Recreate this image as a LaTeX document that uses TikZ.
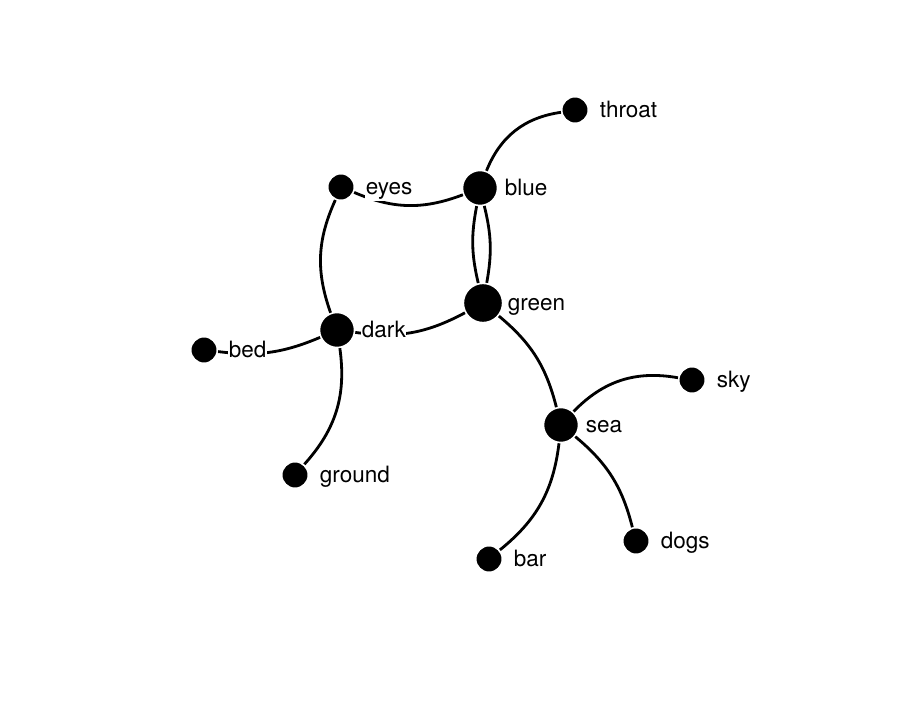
\documentclass[tikz,border=0pt]{standalone}
\usepackage{fontspec}
\setmainfont{TeX Gyre Heros}
\usetikzlibrary{positioning}
\begin{document}
\begin{tikzpicture}[x=0.025cm,y=-0.025cm,
    word/.style={circle,fill=black,draw=white,line width=1.2pt,inner sep=0pt,minimum size=19pt},
    bigword/.style={word,minimum size=25pt},
    hub/.style={word,minimum size=28pt},
    lbl/.style={anchor=mid west,inner sep=0.5pt,fill=white,yshift=-3pt,font=\fontsize{16}{19}\selectfont},
    link/.style={line width=2pt}]
    \useasboundingbox (0,0) rectangle (898,720);
    % words
    \node[word]    (throat) at (575,110) {};
    \node[bigword] (blue)   at (480,188) {};
    \node[word]    (eyes)   at (341,187) {};
    \node[hub]     (green)  at (483,303) {};
    \node[bigword] (dark)   at (337,330) {};
    \node[word]    (bed)    at (204,350) {};
    \node[word]    (sky)    at (692,380) {};
    \node[bigword] (sea)    at (561,425) {};
    \node[word]    (ground) at (295,475) {};
    \node[word]    (dogs)   at (636,541) {};
    \node[word]    (bar)    at (489,559) {};
    % links
    \draw[link] (blue) to[bend left=30] (throat);
    \draw[link] (eyes) to[bend right=22] (blue);
    \draw[link] (blue) to[bend left=12] (green);
    \draw[link] (blue) to[bend right=12] (green);
    \draw[link] (eyes) to[bend right=22] (dark);
    \draw[link] (dark) to[bend right=18] (green);
    \draw[link] (bed) to[bend right=15] (dark);
    \draw[link] (dark) to[bend left=25] (ground);
    \draw[link] (green) to[bend left=18] (sea);
    \draw[link] (sea) to[bend left=28] (sky);
    \draw[link] (sea) to[bend left=18] (dogs);
    \draw[link] (sea) to[bend left=22] (bar);
    % labels
    \foreach \w in {throat,blue,eyes,green,dark,bed,sky,sea,ground,dogs,bar}
        \node[right=17pt of \w.center,lbl] {\w};
\end{tikzpicture}
\end{document}
